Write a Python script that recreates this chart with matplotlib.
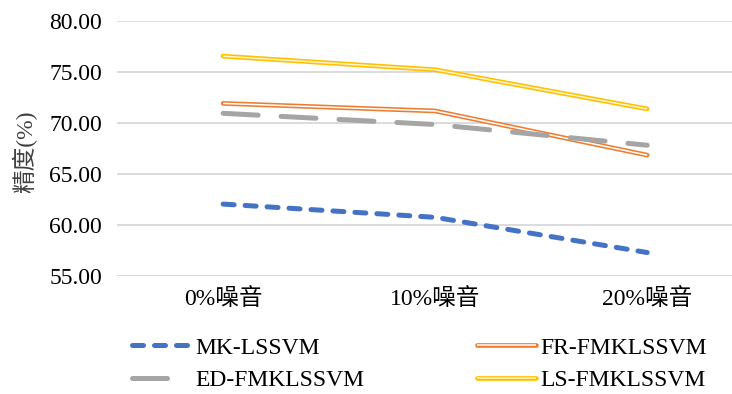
import matplotlib.pyplot as plt
from matplotlib.lines import Line2D
from matplotlib.legend_handler import HandlerTuple

# ---------------------------------------------------
# Data
# ---------------------------------------------------
categories = ['0%噪音', '10%噪音', '20%噪音']
mk_lssvm = [62.05, 60.75, 57.30]
fr_fmklssvm = [71.92, 71.18, 66.85]
ed_fmklssvm = [70.95, 69.85, 67.82]
ls_fmklssvm = [76.55, 75.22, 71.38]

plt.rcParams['font.family'] = ['Liberation Serif', 'Noto Sans CJK SC']

W, H = 732, 394
fig = plt.figure(figsize=(W / 100, H / 100), dpi=100)
ax = fig.add_axes([0.16, 0.2995, 0.869, 0.6472])
x = range(len(categories))

# MK-LSSVM: blue dashes
ax.plot(x, mk_lssvm, color='#4472c4', lw=3.6, dashes=(2.2, 2.2),
        dash_capstyle='round', solid_capstyle='round', zorder=3)

# FR-FMKLSSVM: orange double line
ax.plot(x, fr_fmklssvm, color='#ed7d31', lw=3.4, solid_capstyle='round', zorder=4)
ax.plot(x, fr_fmklssvm, color='white', lw=1.1, solid_capstyle='butt', zorder=4)

# ED-FMKLSSVM: gray long dashes
ax.plot(x, ed_fmklssvm, color='#a5a5a5', lw=3.6, dashes=(7, 4.6),
        dash_capstyle='round', zorder=5)

# LS-FMKLSSVM: yellow double line
ax.plot(x, ls_fmklssvm, color='#ffc000', lw=3.4, solid_capstyle='round', zorder=6)
ax.plot(x, ls_fmklssvm, color='#fff4cc', lw=1.1, solid_capstyle='butt', zorder=6)

ax.set_xlim(-0.5, 2.5)
ax.set_ylim(55, 80)
ax.set_yticks([55, 60, 65, 70, 75, 80])
ax.set_yticklabels([f'{v:.2f}' for v in [55, 60, 65, 70, 75, 80]])
ax.set_xticks(list(x))
ax.set_xticklabels(categories)
ax.tick_params(axis='both', length=0, labelsize=17, colors='#000000')
ax.tick_params(axis='y', pad=11)
ax.tick_params(axis='x', pad=9)
ax.grid(axis='y', color='#d9d9d9', lw=1.3)
ax.set_axisbelow(True)
for s in ax.spines.values():
    s.set_visible(False)

fig.text(0.034, 0.614, '精度(%)', rotation=90, ha='center', va='center',
         fontsize=17, color='#404040')

# Legend
h_mk = Line2D([], [], color='#4472c4', lw=3.6, dashes=(2.2, 2.2), dash_capstyle='round')
h_ed = Line2D([], [], color='#a5a5a5', lw=3.6, dashes=(7, 6), dash_capstyle='round')
h_fr = (Line2D([], [], color='#ed7d31', lw=3.4, solid_capstyle='round'),
        Line2D([], [], color='white', lw=1.1, solid_capstyle='butt'))
h_ls = (Line2D([], [], color='#ffc000', lw=3.4, solid_capstyle='round'),
        Line2D([], [], color='#fff4cc', lw=1.1, solid_capstyle='butt'))
fig.legend([h_mk, h_ed, h_fr, h_ls],
           ['MK-LSSVM', 'ED-FMKLSSVM', 'FR-FMKLSSVM', 'LS-FMKLSSVM'],
           handler_map={tuple: HandlerTuple(ndivide=1)},
           ncol=2, frameon=False, fontsize=17, handlelength=2.5,
           handletextpad=0.17, columnspacing=4.8, labelspacing=0.45,
           loc='center left', bbox_to_anchor=(132 / W, 1 - 364 / H),
           borderaxespad=0, borderpad=0)

fig.savefig('out.png', dpi=100)
